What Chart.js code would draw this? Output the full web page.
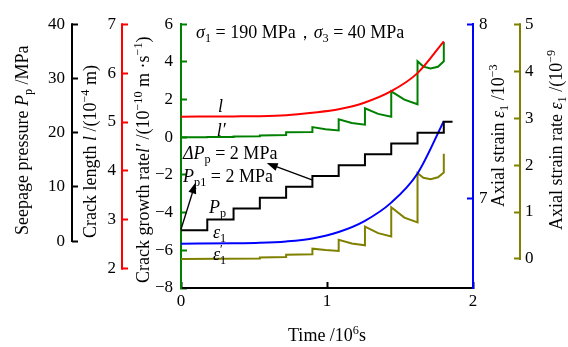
<!DOCTYPE html>
<html>
<head>
<meta charset="utf-8">
<script src="https://cdn.jsdelivr.net/npm/chart.js@4/dist/chart.umd.min.js"></script>
<style>
  html, body { margin: 0; padding: 0; background: #fff; }
  #chart { display: block; }
</style>
</head>
<body>
<canvas id="chart" width="568" height="347"></canvas>
<script>
// time axis, 10^6 s
const xTicks = [0, 1, 2];

// seepage pressure Pp (MPa), staircase
const ppTime = [0, 0.18, 0.36, 0.54, 0.72, 0.90, 1.08, 1.26, 1.44, 1.62, 1.80, 1.86];
const ppValues = [2, 4, 6, 8, 10, 12, 14, 16, 18, 20, 22, 22];

// crack length l (10^-4 m)
const lTime = [0, 0.36, 0.54, 0.72, 0.90, 1.08, 1.26, 1.44, 1.62, 1.80];
const lValues = [5.11, 5.115, 5.12, 5.14, 5.19, 5.26, 5.40, 5.63, 6.00, 6.65];

// crack growth rate l' (10^-10 m/s)
const lrTime = [0, 0.18, 0.18, 0.36, 0.36, 0.54, 0.54, 0.72, 0.72, 0.90, 0.90, 0.99, 1.08, 1.08, 1.17, 1.26, 1.26, 1.35, 1.44, 1.44, 1.53, 1.62, 1.62, 1.66, 1.71, 1.76, 1.80, 1.80];
const lrValues = [0, 0, 0.02, 0.02, 0.04, 0.05, 0.09, 0.12, 0.26, 0.28, 0.54, 0.42, 0.36, 0.95, 0.76, 0.67, 1.54, 1.24, 1.09, 2.44, 2.0, 1.75, 4.03, 3.75, 3.65, 3.74, 4.03, 5.06];

// axial strain e1 (10^-3)
const eTime = [0, 0.36, 0.54, 0.72, 0.90, 1.08, 1.26, 1.44, 1.62, 1.80];
const eValues = [6.743, 6.745, 6.748, 6.756, 6.773, 6.810, 6.874, 6.978, 7.145, 7.445];

// axial strain rate e1' (10^-9 /s)
const erTime = [0, 0.54, 0.54, 0.72, 0.72, 0.90, 0.90, 0.99, 1.08, 1.08, 1.17, 1.26, 1.26, 1.35, 1.44, 1.44, 1.53, 1.62, 1.62, 1.66, 1.71, 1.76, 1.80, 1.80];
const erValues = [0, 0.01, 0.03, 0.04, 0.09, 0.10, 0.22, 0.19, 0.17, 0.41, 0.33, 0.29, 0.69, 0.55, 0.48, 1.10, 0.88, 0.78, 1.83, 1.73, 1.70, 1.74, 1.84, 2.24];

// tick labels
const ppTicks = [0, 10, 20, 30, 40];
const lTicks = [2, 3, 4, 5, 6, 7];
const lrTicks = [-8, -6, -4, -2, 0, 2, 4, 6];
const eTicks = [7, 8];
const erTicks = [0, 1, 2, 3, 4, 5];

const FONT = '"Liberation Serif", "Times New Roman", serif';
const RED = '#ff0000', GREEN = '#008000', BLUE = '#0000ff', OLIVE = '#808000';

const toPts = (xs, ys) => xs.map((x, i) => ({ x: x, y: ys[i] }));

function partFont(p, size) {
  const sz = p.s ? size * 0.68 : size;
  return (p.i ? 'italic ' : '') + sz + 'px ' + FONT;
}

// draw text made of parts {t, i: italic, s: 'sub'|'sup', stay: no advance}
function drawRich(ctx, parts, x, y, size, align, angle, color) {
  ctx.save();
  ctx.translate(x, y);
  if (angle) ctx.rotate(angle);
  ctx.fillStyle = color || '#000';
  ctx.textAlign = 'left';
  ctx.textBaseline = 'alphabetic';
  let w = 0;
  parts.forEach(p => {
    ctx.font = partFont(p, size);
    if (!p.stay) w += ctx.measureText(p.t).width;
  });
  let cx = align === 'center' ? -w / 2 : (align === 'right' ? -w : 0);
  parts.forEach(p => {
    ctx.font = partFont(p, size);
    const dy = p.s === 'sub' ? size * 0.24 : (p.s === 'sup' ? -size * 0.36 : 0);
    ctx.fillText(p.t, cx, dy + size * 0.33);
    if (!p.stay) cx += ctx.measureText(p.t).width;
  });
  ctx.restore();
}

function arrow(ctx, x1, y1, x2, y2) {
  const a = Math.atan2(y2 - y1, x2 - x1);
  const len = 11, half = 4;
  ctx.save();
  ctx.strokeStyle = '#000';
  ctx.fillStyle = '#000';
  ctx.lineWidth = 1.4;
  ctx.beginPath();
  ctx.moveTo(x1, y1);
  ctx.lineTo(x2 - Math.cos(a) * len * 0.8, y2 - Math.sin(a) * len * 0.8);
  ctx.stroke();
  ctx.beginPath();
  ctx.moveTo(x2, y2);
  ctx.lineTo(x2 - Math.cos(a) * len - Math.sin(a) * half, y2 - Math.sin(a) * len + Math.cos(a) * half);
  ctx.lineTo(x2 - Math.cos(a) * len + Math.sin(a) * half, y2 - Math.sin(a) * len - Math.cos(a) * half);
  ctx.closePath();
  ctx.fill();
  ctx.restore();
}

// axis lines that only cover the tick range
function partialAxis(ctx, scale, ticks, x, color) {
  ctx.save();
  ctx.strokeStyle = color;
  ctx.lineWidth = 2;
  ctx.beginPath();
  ctx.moveTo(x, scale.getPixelForValue(ticks[0]) + 1);
  ctx.lineTo(x, scale.getPixelForValue(ticks[ticks.length - 1]) - 1);
  ctx.stroke();
  ctx.restore();
}

const extras = {
  id: 'extras',
  afterDraw(chart) {
    const ctx = chart.ctx;
    const s = chart.scales;
    const X = v => s.x.getPixelForValue(v);
    const G = v => s.yLr.getPixelForValue(v);

    partialAxis(ctx, s.yPp, ppTicks, s.yPp.right, '#000');
    partialAxis(ctx, s.yL, lTicks, s.yL.right, RED);
    partialAxis(ctx, s.yEr, erTicks, s.yEr.left, OLIVE);

    // axis titles
    const up = -Math.PI / 2;
    drawRich(ctx, [{ t: 'Seepage pressure ' }, { t: 'P', i: 1 }, { t: 'p', s: 'sub' }, { t: ' /MPa' }], 22, 235, 18, 'left', up);
    drawRich(ctx, [{ t: 'Crack length ' }, { t: 'l', i: 1 }, { t: ' /(10' }, { t: '−4', s: 'sup' }, { t: ' m)' }], 90, 238, 18, 'left', up);
    drawRich(ctx, [{ t: 'Crack growth rate' }, { t: 'l′', i: 1 }, { t: ' /(10' }, { t: '−10', s: 'sup' }, { t: ' m ·s' }, { t: '−1', s: 'sup' }, { t: ')' }], 143, 283, 18, 'left', up);
    drawRich(ctx, [{ t: 'Axial strain ' }, { t: 'ε', i: 1 }, { t: '1', s: 'sub' }, { t: ' /10' }, { t: '−3', s: 'sup' }], 498, 207, 18, 'left', up);
    drawRich(ctx, [{ t: 'Axial strain rate ' }, { t: 'ε', i: 1 }, { t: '1', s: 'sub' }, { t: ' /(10' }, { t: '−9', s: 'sup' }], 556, 230, 18, 'left', up);
    drawRich(ctx, [{ t: 'Time /10' }, { t: '6', s: 'sup' }, { t: 's' }], (s.x.left + s.x.right) / 2, 335, 18, 'center');

    // annotations
    drawRich(ctx, [{ t: 'σ', i: 1 }, { t: '1', s: 'sub' }, { t: ' = 190 MPa，' }, { t: 'σ', i: 1 }, { t: '3', s: 'sub' }, { t: ' = 40 MPa' }], X(0.103), G(5.59), 18, 'left');
    drawRich(ctx, [{ t: 'l', i: 1 }], X(0.27), G(1.65), 18, 'center');
    drawRich(ctx, [{ t: 'l′', i: 1 }], X(0.275), G(0.40), 18, 'center');
    drawRich(ctx, [{ t: 'ΔP', i: 1 }, { t: 'p', s: 'sub' }, { t: ' = 2 MPa' }], X(0.014), G(-0.84), 18, 'left');
    drawRich(ctx, [{ t: 'P', i: 1 }, { t: 'p1', s: 'sub' }, { t: ' = 2 MPa' }], X(0.014), G(-2.04), 18, 'left');
    drawRich(ctx, [{ t: 'P', i: 1 }, { t: 'p', s: 'sub' }], X(0.192), G(-3.69), 18, 'left');
    drawRich(ctx, [{ t: 'ε', i: 1 }, { t: '1', s: 'sub' }], X(0.219), G(-5.04), 18, 'left');
    drawRich(ctx, [{ t: 'ε', i: 1 }, { t: '′', s: 'sup', stay: 1 }, { t: '1', s: 'sub' }], X(0.219), G(-6.18), 18, 'left');

    arrow(ctx, X(0.902), G(-2.28), X(0.587), G(-1.37));
    arrow(ctx, X(0), G(-4.89), X(0.1), G(-2.4));
  }
};

function fixTicks(list) {
  return scale => { scale.ticks = list.map(v => ({ value: v })); };
}
function fixWidth(w) {
  return scale => { scale.width = w; };
}
const minus = v => (v < 0 ? '−' + Math.abs(v) : String(v));

function yScale(opts) {
  return {
    type: 'linear',
    position: opts.position,
    weight: opts.weight,
    min: opts.min,
    max: opts.max,
    afterBuildTicks: fixTicks(opts.ticks),
    afterFit: fixWidth(opts.width),
    border: { display: opts.border, color: opts.color, width: 2 },
    grid: { drawOnChartArea: false, drawTicks: true, tickLength: -6, tickColor: opts.color, tickWidth: 2 },
    ticks: { color: '#000', padding: opts.pad, font: { family: FONT, size: 17 }, callback: minus }
  };
}

const line = (label, pts, color, axis, extra) => Object.assign({
  label: label,
  data: pts,
  yAxisID: axis,
  borderColor: color,
  borderWidth: 2,
  pointRadius: 0,
  fill: false,
  tension: 0
}, extra || {});

new Chart(document.getElementById('chart'), {
  type: 'line',
  data: {
    datasets: [
      line('l', toPts(lTime, lValues), RED, 'yL', { cubicInterpolationMode: 'monotone' }),
      line("l'", toPts(lrTime, lrValues), GREEN, 'yLr'),
      line('Pp', toPts(ppTime, ppValues), '#000', 'yPp', { stepped: true }),
      line('e1', toPts(eTime, eValues), BLUE, 'yE', { cubicInterpolationMode: 'monotone' }),
      line("e1'", toPts(erTime, erValues), OLIVE, 'yEr')
    ]
  },
  options: {
    responsive: false,
    animation: false,
    devicePixelRatio: 1,
    layout: { padding: { top: 18, left: 0, right: 0, bottom: 0 } },
    plugins: { legend: { display: false }, tooltip: { enabled: false } },
    scales: {
      x: {
        type: 'linear',
        min: 0,
        max: 2,
        afterBuildTicks: fixTicks(xTicks),
        afterFit: scale => { scale.height = 59; },
        border: { color: '#000', width: 2 },
        grid: { drawOnChartArea: false, tickLength: -6, tickColor: '#000', tickWidth: 2 },
        ticks: { color: '#000', padding: 9, maxRotation: 0, font: { family: FONT, size: 17 } }
      },
      yPp: yScale({ position: 'left', weight: 3, min: -8.65, max: 40, ticks: ppTicks, width: 72, color: '#000', border: false, pad: 13 }),
      yL: yScale({ position: 'left', weight: 2, min: 1.606, max: 7, ticks: lTicks, width: 50, color: RED, border: false, pad: 12 }),
      yLr: yScale({ position: 'left', weight: 1, min: -8, max: 6, ticks: lrTicks, width: 59, color: GREEN, border: true, pad: 14 }),
      yE: yScale({ position: 'right', weight: 1, min: 6.489, max: 8, ticks: eTicks, width: 47, color: BLUE, border: true, pad: 12 }),
      yEr: yScale({ position: 'right', weight: 2, min: -0.618, max: 5, ticks: erTicks, width: 48, color: OLIVE, border: false, pad: 11 })
    }
  },
  plugins: [extras]
});
</script>
</body>
</html>
